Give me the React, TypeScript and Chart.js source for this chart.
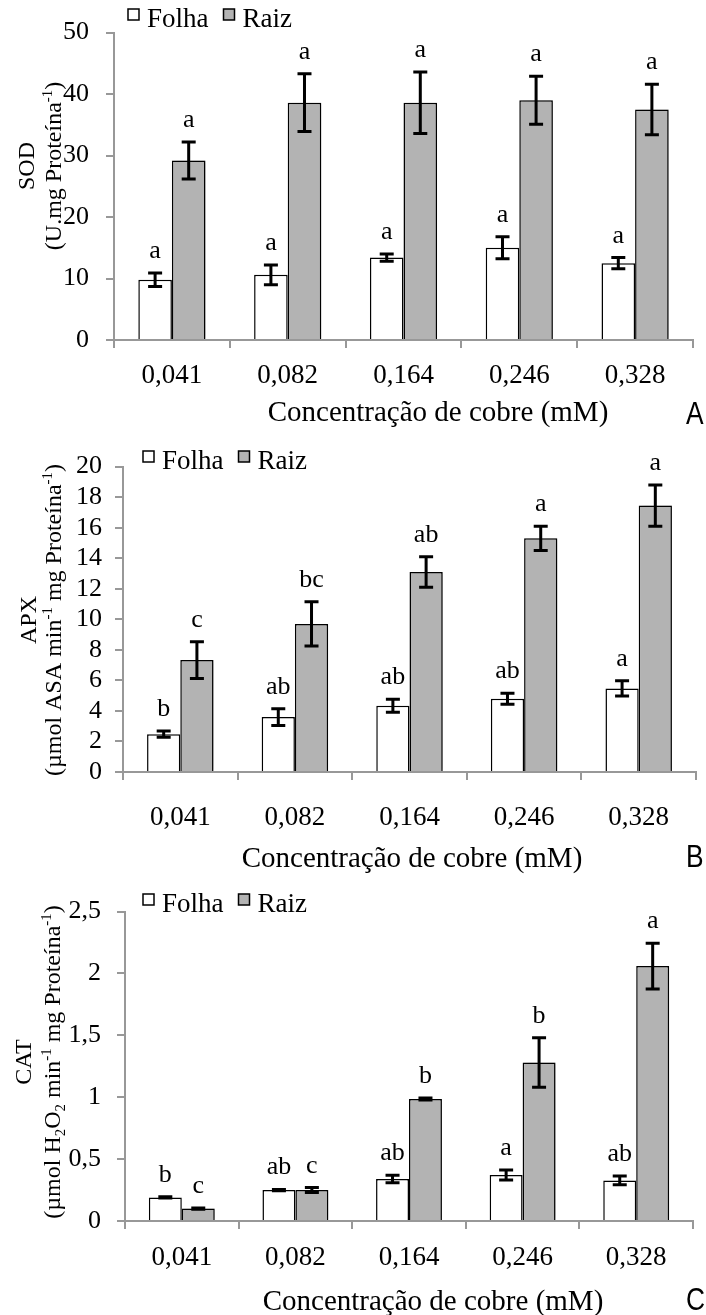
import React, { useEffect, useRef } from 'react';
import { Chart, registerables } from 'chart.js';

Chart.register(...registerables);

const SERIF = '"Liberation Serif", "Times New Roman", serif';
const SANS = '"Liberation Sans", Arial, sans-serif';
const AXIS = '#989898';

// ---------- data ----------
const categories = ['0,041', '0,082', '0,164', '0,246', '0,328'];
const seriesNames = ['Folha', 'Raiz'];
const seriesColors = ['#ffffff', '#b3b3b3'];

// Panel A - SOD
const sodFolha = [9.8, 10.6, 13.4, 15.0, 12.5];
const sodFolhaErr = [1.1, 1.6, 0.6, 1.8, 0.9];
const sodRaiz = [29.2, 38.6, 38.6, 39.0, 37.5];
const sodRaizErr = [3.0, 4.7, 5.0, 3.9, 4.1];
const sodFolhaLetters = ['a', 'a', 'a', 'a', 'a'];
const sodRaizLetters = ['a', 'a', 'a', 'a', 'a'];
const sodTicks = ['0', '10', '20', '30', '40', '50'];

// Panel B - APX
const apxFolha = [2.48, 3.6, 4.34, 4.79, 5.47];
const apxFolhaErr = [0.2, 0.55, 0.43, 0.36, 0.5];
const apxRaiz = [7.33, 9.7, 13.1, 15.3, 17.45];
const apxRaizErr = [1.2, 1.45, 1.0, 0.8, 1.35];
const apxFolhaLetters = ['b', 'ab', 'ab', 'ab', 'a'];
const apxRaizLetters = ['c', 'bc', 'ab', 'a', 'a'];
const apxTicks = ['0', '2', '4', '6', '8', '10', '12', '14', '16', '18', '20'];

// Panel C - CAT
const catFolha = [0.19, 0.25, 0.34, 0.372, 0.328];
const catFolhaErr = [0.005, 0.005, 0.03, 0.04, 0.035];
const catRaiz = [0.1, 0.25, 0.985, 1.28, 2.06];
const catRaizErr = [0.005, 0.02, 0.008, 0.2, 0.185];
const catFolhaLetters = ['b', 'ab', 'ab', 'a', 'ab'];
const catRaizLetters = ['c', 'c', 'b', 'b', 'a'];
const catTicks = ['0', '0,5', '1', '1,5', '2', '2,5'];

const xTitle = 'Concentração de cobre (mM)';

type Seg = { t: string; sup?: boolean; sub?: boolean };

interface PanelSpec {
  top: number;
  height: number;
  left: number;
  right: number;
  plotTop: number;
  plotBottom: number;
  yMax: number;
  yStep: number;
  yTicks: string[];
  folha: number[];
  folhaErr: number[];
  raiz: number[];
  raizErr: number[];
  folhaLetters: string[];
  raizLetters: string[];
  title1: Seg[];
  title2: Seg[];
  t1x: number;
  t2x: number;
  tCenterY: number;
  xTitleX: number;
  xTitleBase: number;
  xPad: number;
  yPad: number;
  legendX: number;
  legendBase: number;
  panelLabel: string;
  labelBase: number;
}

const panels: PanelSpec[] = [
  {
    top: 0, height: 438, left: 114, right: 693, plotTop: 20, plotBottom: 340,
    yMax: 50, yStep: 10, yTicks: sodTicks,
    folha: sodFolha, folhaErr: sodFolhaErr, raiz: sodRaiz, raizErr: sodRaizErr,
    folhaLetters: sodFolhaLetters, raizLetters: sodRaizLetters,
    title1: [{ t: 'SOD' }],
    title2: [{ t: '(U.mg Proteína' }, { t: '-1', sup: true }, { t: ')' }],
    t1x: 26, t2x: 53, tCenterY: 166,
    xTitleX: 438, xTitleBase: 421, xPad: 11.5, yPad: 17,
    legendX: 128, legendBase: 27, panelLabel: 'A', labelBase: 424,
  },
  {
    top: 438, height: 442, left: 123, right: 696, plotTop: 22, plotBottom: 334,
    yMax: 20, yStep: 2, yTicks: apxTicks,
    folha: apxFolha, folhaErr: apxFolhaErr, raiz: apxRaiz, raizErr: apxRaizErr,
    folhaLetters: apxFolhaLetters, raizLetters: apxRaizLetters,
    title1: [{ t: 'APX' }],
    title2: [{ t: '(µmol ASA min' }, { t: '-1', sup: true }, { t: ' mg Proteína' }, { t: '-1', sup: true }, { t: ')' }],
    t1x: 28, t2x: 53, tCenterY: 182,
    xTitleX: 412, xTitleBase: 429, xPad: 22, yPad: 13,
    legendX: 143, legendBase: 31, panelLabel: 'B', labelBase: 429,
  },
  {
    top: 880, height: 435, left: 125, right: 693, plotTop: 23, plotBottom: 341,
    yMax: 2.5, yStep: 0.5, yTicks: catTicks,
    folha: catFolha, folhaErr: catFolhaErr, raiz: catRaiz, raizErr: catRaizErr,
    folhaLetters: catFolhaLetters, raizLetters: catRaizLetters,
    title1: [{ t: 'CAT' }],
    title2: [{ t: '(µmol H' }, { t: '2', sub: true }, { t: 'O' }, { t: '2', sub: true }, { t: ' min' }, { t: '-1', sup: true }, { t: ' mg Proteína' }, { t: '-1', sup: true }, { t: ')' }],
    t1x: 23, t2x: 52, tCenterY: 182,
    xTitleX: 433, xTitleBase: 430, xPad: 13, yPad: 16,
    legendX: 143, legendBase: 32, panelLabel: 'C', labelBase: 430,
  },
];

function drawRich(ctx: CanvasRenderingContext2D, segs: Seg[], cx: number, baseline: number, size: number) {
  const parts = segs.map((s) => {
    const fs = s.sup || s.sub ? size * 0.62 : size;
    ctx.font = `${fs}px ${SERIF}`;
    return { ...s, fs, w: ctx.measureText(s.t).width };
  });
  const total = parts.reduce((a, p) => a + p.w, 0);
  let x = cx - total / 2;
  ctx.textAlign = 'left';
  ctx.textBaseline = 'alphabetic';
  for (const p of parts) {
    ctx.font = `${p.fs}px ${SERIF}`;
    const dy = p.sup ? -size * 0.36 : p.sub ? size * 0.2 : 0;
    ctx.fillText(p.t, x, baseline + dy);
    x += p.w;
  }
}

function PanelChart({ spec }: { spec: PanelSpec }) {
  const ref = useRef<HTMLCanvasElement>(null);
  useEffect(() => {
    const canvas = ref.current!;
    const s = spec;
    const overlay = {
      id: 'overlay',
      beforeDatasetDraw(chart: any, args: any) {
        if (args.index === 1) {
          const c = chart.ctx;
          c.save();
          c.shadowColor = 'rgba(0,0,0,0.25)';
          c.shadowBlur = 4;
          c.shadowOffsetX = 3;
          c.shadowOffsetY = 0;
        }
      },
      afterDatasetDraw(chart: any, args: any) {
        if (args.index === 1) chart.ctx.restore();
      },
      afterDatasetsDraw(chart: any) {
        const ctx: CanvasRenderingContext2D = chart.ctx;
        const y = chart.scales.y;
        const vals = [s.folha, s.raiz];
        const errs = [s.folhaErr, s.raizErr];
        const lets = [s.folhaLetters, s.raizLetters];
        for (let d = 0; d < 2; d++) {
          const meta = chart.getDatasetMeta(d);
          meta.data.forEach((el: any, i: number) => {
            const v = vals[d][i];
            const e = errs[d][i];
            const yt = y.getPixelForValue(v + e);
            const yb = y.getPixelForValue(v - e);
            ctx.save();
            ctx.strokeStyle = '#000';
            ctx.lineWidth = 3;
            ctx.beginPath();
            ctx.moveTo(el.x, yt);
            ctx.lineTo(el.x, yb);
            ctx.moveTo(el.x - 7, yt);
            ctx.lineTo(el.x + 7, yt);
            ctx.moveTo(el.x - 7, yb);
            ctx.lineTo(el.x + 7, yb);
            ctx.stroke();
            ctx.fillStyle = '#000';
            ctx.font = `26px ${SERIF}`;
            ctx.textAlign = 'center';
            ctx.textBaseline = 'alphabetic';
            ctx.fillText(lets[d][i], el.x, yt - 15);
            ctx.restore();
          });
        }
      },
      afterDraw(chart: any) {
        const ctx: CanvasRenderingContext2D = chart.ctx;
        ctx.save();
        // legend
        ctx.font = `27px ${SERIF}`;
        ctx.textAlign = 'left';
        ctx.textBaseline = 'alphabetic';
        let x = s.legendX;
        for (let d = 0; d < 2; d++) {
          ctx.fillStyle = seriesColors[d];
          ctx.fillRect(x, s.legendBase - 18, 11, 11);
          ctx.strokeStyle = '#000';
          ctx.lineWidth = 1.5;
          ctx.strokeRect(x, s.legendBase - 18, 11, 11);
          x += 19;
          ctx.fillStyle = '#000';
          ctx.font = `27px ${SERIF}`;
          ctx.fillText(seriesNames[d], x, s.legendBase);
          x += ctx.measureText(seriesNames[d]).width + 15;
        }
        // y titles (rotated)
        ctx.fillStyle = '#000';
        const size = 24;
        ctx.save();
        ctx.translate(s.t1x, s.tCenterY);
        ctx.rotate(-Math.PI / 2);
        drawRich(ctx, s.title1, 0, size * 0.33, size);
        ctx.restore();
        ctx.save();
        ctx.translate(s.t2x, s.tCenterY);
        ctx.rotate(-Math.PI / 2);
        drawRich(ctx, s.title2, 0, size * 0.33, size);
        ctx.restore();
        // x title
        ctx.font = `29px ${SERIF}`;
        ctx.textAlign = 'center';
        ctx.textBaseline = 'alphabetic';
        ctx.fillText(xTitle, s.xTitleX, s.xTitleBase);
        // panel label
        ctx.save();
        ctx.translate(686, s.labelBase);
        ctx.scale(0.85, 1);
        ctx.font = `31px ${SANS}`;
        ctx.textAlign = 'left';
        ctx.textBaseline = 'alphabetic';
        ctx.fillText(s.panelLabel, 0, 0);
        ctx.restore();
        ctx.restore();
      },
    };

    const chart = new Chart(canvas, {
      type: 'bar',
      data: {
        labels: categories,
        datasets: [
          {
            label: seriesNames[0], data: s.folha, backgroundColor: seriesColors[0],
            borderColor: '#000', borderWidth: 1.5, categoryPercentage: 0.58, barPercentage: 1,
          },
          {
            label: seriesNames[1], data: s.raiz, backgroundColor: seriesColors[1],
            borderColor: '#000', borderWidth: 1.5, categoryPercentage: 0.58, barPercentage: 1,
          },
        ],
      },
      options: {
        responsive: false,
        animation: false,
        devicePixelRatio: 1,
        layout: { padding: { left: 0, right: 706 - s.right, top: s.plotTop, bottom: 0 } },
        plugins: { legend: { display: false }, tooltip: { enabled: false } },
        scales: {
          x: {
            grid: { display: true, drawOnChartArea: false, drawTicks: true, tickLength: 8, color: AXIS, lineWidth: 2, offset: true },
            border: { display: true, color: AXIS, width: 2 },
            ticks: { color: '#000', font: { family: SERIF, size: 27 }, padding: s.xPad, maxRotation: 0, minRotation: 0, autoSkip: false },
            afterFit: (sc: any) => { sc.height = s.height - s.plotBottom; },
          },
          y: {
            min: 0,
            max: s.yMax,
            grid: { display: true, drawOnChartArea: false, drawTicks: true, tickLength: 8, color: AXIS, lineWidth: 2 },
            border: { display: true, color: AXIS, width: 2 },
            ticks: {
              stepSize: s.yStep, autoSkip: false, color: '#000',
              font: { family: SERIF, size: 26 }, padding: s.yPad,
              callback: (_v: any, i: number) => s.yTicks[i],
            },
            afterFit: (sc: any) => { sc.width = s.left; },
          },
        },
      } as any,
      plugins: [overlay],
    });
    return () => chart.destroy();
  }, [spec]);
  return (
    <canvas
      ref={ref}
      width={706}
      height={spec.height}
      style={{ position: 'absolute', left: 0, top: spec.top, display: 'block' }}
    />
  );
}

export default function App() {
  return (
    <div style={{ position: 'absolute', left: 0, top: 0, width: 706, height: 1315, background: '#fff', overflow: 'hidden' }}>
      {panels.map((p, i) => (
        <PanelChart key={i} spec={p} />
      ))}
    </div>
  );
}
